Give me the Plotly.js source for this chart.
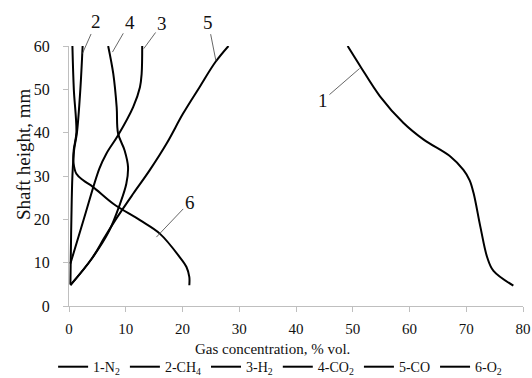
<!DOCTYPE html>
<html>
<head>
<meta charset="utf-8">
<script src="https://cdn.plot.ly/plotly-3.0.1.min.js"></script>
<style>html,body{margin:0;padding:0;background:#fff;}#chart{width:532px;height:378px;}</style>
</head>
<body>
<div id="chart"></div>
<script>
// Series names
const seriesNames = ['1-N<sub>2</sub>', '2-CH<sub>4</sub>', '3-H<sub>2</sub>', '4-CO<sub>2</sub>', '5-CO', '6-O<sub>2</sub>'];

// 1 - N2 (gas concentration % vol. vs shaft height mm)
const n2Height = [4.7, 8.1, 11.2, 18.2, 26, 29, 31.4, 34.5, 38.4, 42.3, 48.4, 55.4, 60];
const n2Conc   = [78.3, 74.8, 73.7, 72.5, 71.3, 70.6, 69.5, 67.2, 62.5, 58.9, 54.8, 51.3, 49.1];

// 2 - CH4
const ch4Height = [5, 10, 20, 30, 36, 40, 50, 60];
const ch4Conc   = [0.25, 0.3, 0.42, 0.6, 0.9, 1.4, 2.0, 2.4];

// 3 - H2
const h2Height = [9.8, 20, 31.7, 35.2, 39.4, 45.9, 50.5, 53.6, 60];
const h2Conc   = [0.25, 2.6, 5.35, 6.6, 8.65, 11.3, 12.5, 12.8, 12.9];

// 4 - CO2
const co2Height = [4.8, 10.9, 17.4, 23.6, 28.2, 32.1, 35.9, 39.8, 45.9, 53.6, 60];
const co2Conc   = [0.25, 4.0, 7.1, 9.0, 10.1, 10.4, 9.8, 8.65, 8.4, 7.8, 6.9];

// 5 - CO
const coHeight = [4.8, 10.9, 15.9, 20.5, 25.9, 31.3, 37.5, 44.4, 50.5, 56.3, 60];
const coConc   = [0.25, 4.0, 6.3, 8.5, 11.3, 14.2, 17.2, 20.1, 23.0, 25.8, 28.1];

// 6 - O2
const o2Height = [4.8, 6.7, 9, 11.3, 16.7, 19.8, 23.6, 27.5, 29, 30.5, 33, 36, 40, 50, 60];
const o2Conc   = [21.2, 21.2, 20.7, 19.5, 16.0, 12.5, 7.8, 4.2, 2.5, 1.3, 0.8, 0.83, 1.3, 0.85, 0.6];

// Curve number labels and the curve points their leaders touch
const labelTexts  = ['1', '2', '3', '4', '5', '6'];
const labelConc   = [51.2, 2.36, 13.18, 7.66, 25.9, 15.4];
const labelHeight = [54.8, 58.25, 59.4, 58.6, 56.5, 15.9];
const labelDx     = [-36.6, 14, 18.3, 17.3, -7.7, 33.3];
const labelDy     = [31.7, -31.6, -25, -30, -39, -35];

const xTicks = [0, 10, 20, 30, 40, 50, 60, 70, 80];
const yTicks = [0, 10, 20, 30, 40, 50, 60];
const xTitle = 'Gas concentration, % vol.';
const yTitle = 'Shaft height, mm';

const FONT = 'Liberation Serif, Times New Roman, serif';
const TXT = '#111111';
const AX = '#bfbfbf';

const series = [
  [n2Conc, n2Height], [ch4Conc, ch4Height], [h2Conc, h2Height],
  [co2Conc, co2Height], [coConc, coHeight], [o2Conc, o2Height]
];

const traces = series.map((s, i) => ({
  type: 'scatter', mode: 'lines',
  x: s[0], y: s[1], name: seriesNames[i],
  line: {color: '#000000', width: 2, shape: 'spline', smoothing: 1}
}));

const annotations = labelTexts.map((t, i) => ({
  x: labelConc[i], y: labelHeight[i], xref: 'x', yref: 'y',
  text: t, showarrow: true, arrowhead: 0, arrowwidth: 0.8, arrowcolor: '#404040',
  ax: labelDx[i], ay: labelDy[i], standoff: 0, startstandoff: 0,
  font: {family: FONT, size: 19, color: TXT}
}));

annotations.push({
  xref: 'paper', yref: 'paper', x: -0.1, y: 0.583,
  text: yTitle, textangle: -90, showarrow: false,
  xanchor: 'center', yanchor: 'middle',
  font: {family: FONT, size: 19, color: TXT}
});
annotations.push({
  xref: 'paper', yref: 'paper', x: 0.449, y: -0.1665,
  text: xTitle, showarrow: false,
  xanchor: 'center', yanchor: 'middle',
  font: {family: FONT, size: 15, color: TXT}
});

const layout = {
  width: 532, height: 378,
  margin: {l: 69, r: 9, t: 46, b: 72, pad: 0, autoexpand: false},
  paper_bgcolor: '#ffffff', plot_bgcolor: '#ffffff',
  showlegend: true,
  legend: {
    orientation: 'h', x: 0.465, xanchor: 'center', y: -0.235, yanchor: 'middle',
    font: {family: FONT, size: 14, color: TXT}, itemwidth: 30, tracegroupgap: 0
  },
  xaxis: {
    range: [0, 80], tickvals: xTicks, ticktext: xTicks.map(String),
    showline: true, linecolor: AX, linewidth: 1,
    ticks: 'outside', ticklen: 5, tickcolor: AX, tickwidth: 1,
    showgrid: false, zeroline: false,
    tickfont: {family: FONT, size: 15, color: TXT},
    ticklabelstandoff: 4,
    automargin: false
  },
  yaxis: {
    range: [0, 60], tickvals: yTicks, ticktext: yTicks.map(String),
    showline: true, linecolor: AX, linewidth: 1,
    ticks: 'outside', ticklen: 5, tickcolor: AX, tickwidth: 1,
    showgrid: false, zeroline: false,
    tickfont: {family: FONT, size: 16, color: TXT},
    ticklabelstandoff: 10,
    automargin: false
  },
  annotations: annotations
};

Plotly.newPlot('chart', traces, layout, {staticPlot: true, displayModeBar: false});
</script>
</body>
</html>
